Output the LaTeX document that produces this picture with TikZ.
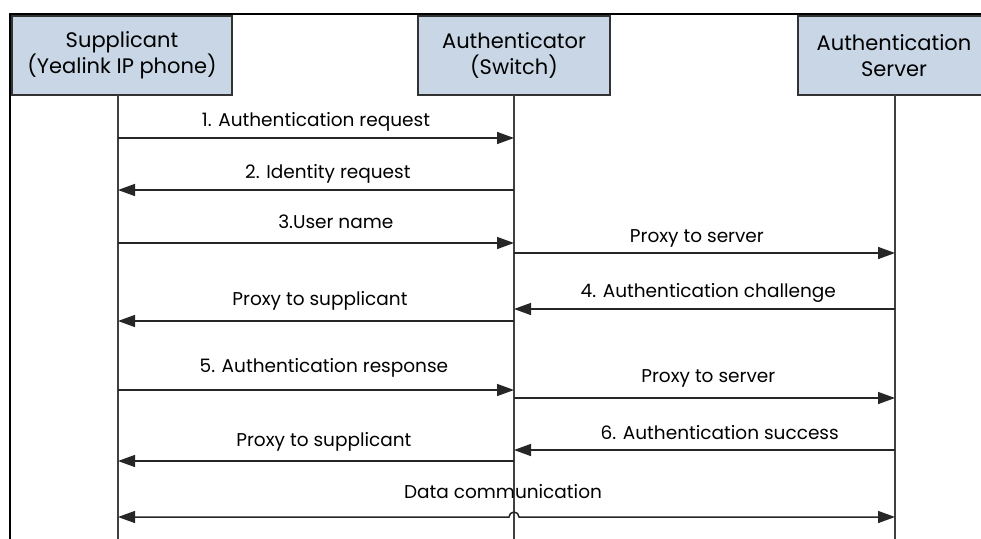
\documentclass[tikz,border=0pt]{standalone}
\usepackage{fontspec}
\setmainfont{Poppins}
\usetikzlibrary{arrows.meta}
\definecolor{boxblue}{RGB}{200,214,230}
\tikzset{
  entity/.style={draw=black!80, fill=boxblue, line width=1.5pt, minimum height=79pt, inner sep=0pt, align=center, font=\fontsize{21}{26}\selectfont},
  lifeline/.style={draw=black!75, line width=1.4pt},
  msg/.style={draw=black!85, line width=1.5pt, -{Triangle[length=17pt,width=12pt]}},
  lbl/.style={font=\fontsize{18.5}{22}\selectfont, inner sep=0pt, text height=13pt, text depth=4pt}
}
\begin{document}
\begin{tikzpicture}[x=1pt,y=-1pt]
    \path[use as bounding box, clip] (0,0) rectangle (981,538);
    \draw[line width=2pt] (981,14) -- (10,14) -- (10,540);
    \node[entity, minimum width=220pt] (sup) at (122,55.5) {Supplicant\\(Yealink IP phone)};
    \node[entity, minimum width=192pt] (auth) at (514,55.5) {Authenticator\\(Switch)};
    \node[entity, minimum width=192pt] (srv) at (894,55.5) {Authentication\\Server};
    \coordinate (s0) at (118,95);
    \coordinate (a0) at (514,95);
    \coordinate (v0) at (895,95);
    \coordinate (send) at (118,540);
    \coordinate (aend) at (514,540);
    \coordinate (vend) at (895,540);
    \draw[lifeline] (s0) -- (send);
    \draw[lifeline] (a0) -- (aend);
    \draw[lifeline] (v0) -- (vend);
    \foreach \n/\y in {1/138,2/190,3/243,4/253,5/309,6/321,7/390,8/398,9/450,10/461,11/517}{
        \coordinate (s\n) at (118,\y);
        \coordinate (a\n) at (514,\y);
        \coordinate (v\n) at (895,\y);
    }
    \path (s1) edge[msg] node[lbl, above=7pt, pos=0.5] {1. Authentication request} (a1);
    \path (a2) edge[msg] node[lbl, above=7pt, pos=0.47] {2. Identity request} (s2);
    \path (s3) edge[msg] node[lbl, above=10pt, pos=0.55] {3.User name} (a3);
    \path (a4) edge[msg] node[lbl, above=6pt, pos=0.48] {Proxy to server} (v4);
    \path (v5) edge[msg] node[lbl, above=7pt, pos=0.49] {4. Authentication challenge} (a5);
    \path (a6) edge[msg] node[lbl, above=11pt, pos=0.49] {Proxy to supplicant} (s6);
    \path (s7) edge[msg] node[lbl, above=13pt, pos=0.52] {5. Authentication response} (a7);
    \path (a8) edge[msg] node[lbl, above=11pt, pos=0.51] {Proxy to server} (v8);
    \path (v9) edge[msg] node[lbl, above=6pt, pos=0.46] {6. Authentication success} (a9);
    \path (a10) edge[msg] node[lbl, above=10pt, pos=0.48] {Proxy to supplicant} (s10);
    \draw[msg, {Triangle[length=17pt,width=12pt]}-{Triangle[length=17pt,width=12pt]}] (s11) -- ([xshift=-5pt]a11) arc[start angle=180, end angle=360, radius=5] -- (v11);
    \node[lbl] (data) at (503,494) {Data communication};
\end{tikzpicture}
\end{document}
